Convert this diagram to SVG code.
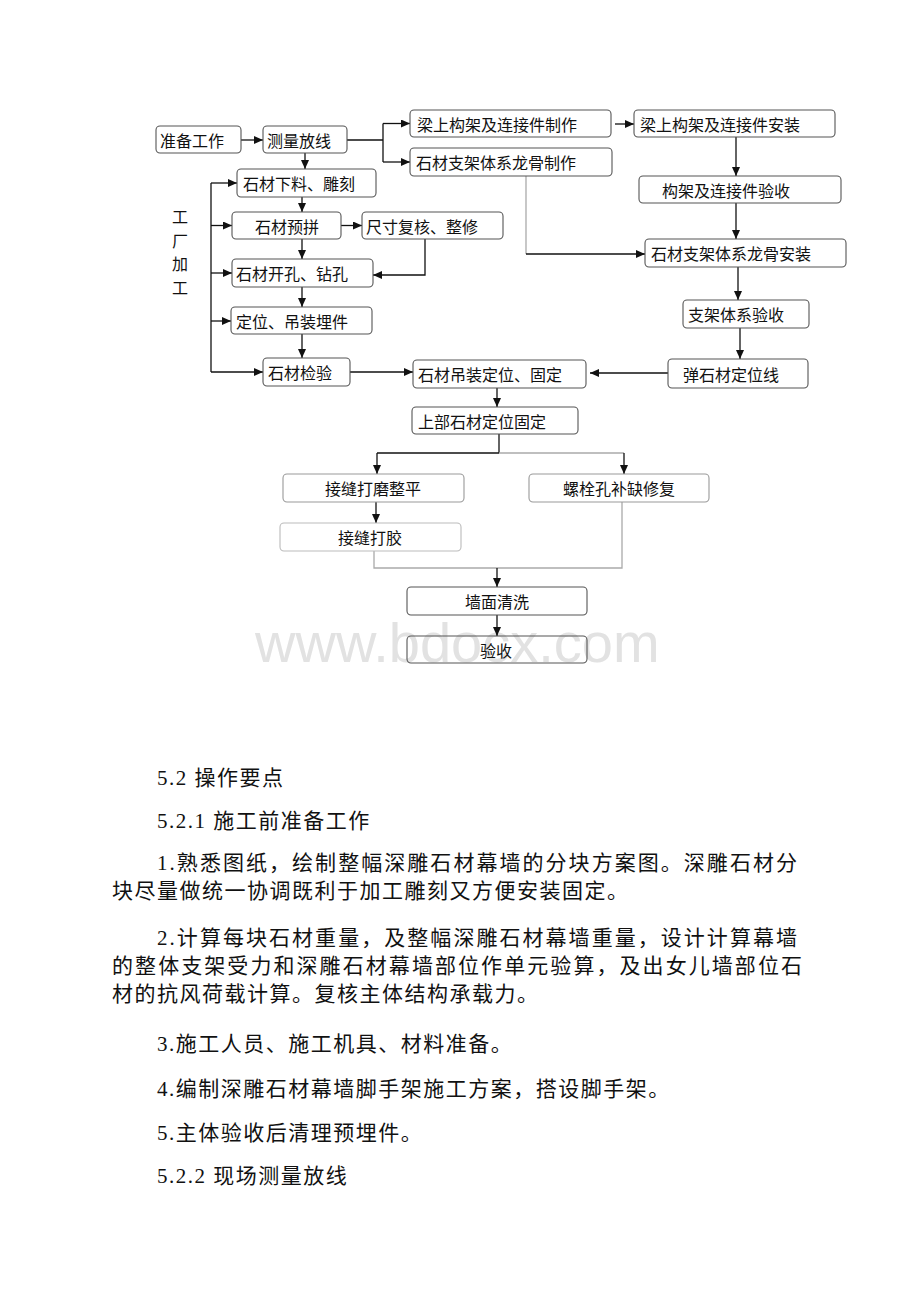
<svg xmlns="http://www.w3.org/2000/svg" width="920" height="1302" viewBox="0 0 920 1302">
<style>
.bx{fill:none;stroke:#555;stroke-width:1.1}
.lt{stroke:#999}
.lt2{stroke:#bbb}
.t{font-family:"Noto Sans CJK SC","Liberation Sans",sans-serif;font-size:16px;fill:#111;dominant-baseline:central}
.c{stroke:#111;stroke-width:1.3;fill:none}
.a{marker-end:url(#ah)}
.g{stroke:#aaa}
.p{font-family:"Liberation Serif","Noto Sans CJK SC",serif;font-size:21px;fill:#111}
.s{letter-spacing:1.5px}
.wm{font-family:"Liberation Sans",Arial,sans-serif;font-size:56px;fill:#e2e2e2}
</style>
<defs>
<marker id="ah" markerUnits="userSpaceOnUse" markerWidth="9" markerHeight="8" refX="9" refY="4" orient="auto">
<path d="M0,0 L9,4 L0,8 z" fill="#111"/>
</marker>
</defs>
<rect width="920" height="1302" fill="#fff"/>
<text class="wm" x="255" y="662">www.bdocx.com</text>

<g id="connectors">
<line class="c a" x1="241" y1="140" x2="263" y2="140"/>
<polyline class="c" points="347,140 383,140"/>
<line class="c" x1="383" y1="123.5" x2="383" y2="162"/>
<line class="c a" x1="383" y1="123.5" x2="410" y2="123.5"/>
<line class="c a" x1="383" y1="162" x2="410" y2="162"/>
<line class="c a" x1="615" y1="124" x2="634" y2="124"/>
<line class="c a" x1="736" y1="137" x2="736" y2="176"/>
<line class="c a" x1="736" y1="203" x2="736" y2="239"/>
<line class="c g" x1="526" y1="176" x2="526" y2="254"/>
<line class="c a" x1="526" y1="254" x2="645" y2="254"/>
<line class="c a" x1="738" y1="267" x2="738" y2="300"/>
<line class="c a" x1="740" y1="328" x2="740" y2="359"/>
<line class="c a" x1="668" y1="373" x2="590" y2="373"/>
<line class="c a" x1="305" y1="153" x2="305" y2="169"/>
<line class="c a" x1="302" y1="197" x2="302" y2="212"/>
<line class="c a" x1="341" y1="225.5" x2="362" y2="225.5"/>
<line class="c a" x1="302" y1="239" x2="302" y2="259"/>
<polyline class="c a" points="425,239 425,275 373,275"/>
<line class="c a" x1="302" y1="287" x2="302" y2="307"/>
<line class="c a" x1="302" y1="334" x2="302" y2="358"/>
<line class="c" x1="211" y1="183" x2="211" y2="372"/>
<line class="c a" x1="211" y1="183" x2="237" y2="183"/>
<line class="c a" x1="211" y1="225.5" x2="232" y2="225.5"/>
<line class="c a" x1="211" y1="273" x2="232" y2="273"/>
<line class="c a" x1="211" y1="321" x2="231" y2="321"/>
<line class="c a" x1="211" y1="372" x2="263" y2="372"/>
<line class="c a" x1="350" y1="372" x2="413" y2="372"/>
<line class="c a" x1="497" y1="388" x2="497" y2="407"/>
<line class="c" x1="499" y1="434" x2="499" y2="453"/>
<line class="c" x1="377" y1="453" x2="499" y2="453"/>
<line class="c g" x1="499" y1="453" x2="624" y2="453"/>
<line class="c a" x1="377" y1="453" x2="377" y2="474"/>
<line class="c a" x1="624" y1="453" x2="624" y2="474"/>
<line class="c a" x1="376" y1="502" x2="376" y2="523"/>
<polyline class="c g" points="374,551 374,568 622,568 622,502"/>
<line class="c a" x1="497" y1="568" x2="497" y2="587"/>
<line class="c a" x1="497" y1="615" x2="497" y2="636"/>
</g>

<g id="n-zhunbei"><rect class="bx" x="156" y="126" width="85" height="27" rx="4"/><text class="t" x="160" y="139.5">准备工作</text></g>
<g id="n-celiang"><rect class="bx" x="263" y="126" width="84" height="27" rx="4"/><text class="t" x="267" y="139.5">测量放线</text></g>
<g id="n-liangzhizuo"><rect class="bx" x="410" y="110" width="201" height="27" rx="4"/><text class="t" x="417" y="123.5">梁上构架及连接件制作</text></g>
<g id="n-longguzhizuo"><rect class="bx" x="410" y="148" width="202" height="28" rx="4"/><text class="t" x="416" y="162">石材支架体系龙骨制作</text></g>
<g id="n-liazanzhuang"><rect class="bx" x="634" y="110" width="201" height="27" rx="4"/><text class="t" x="640" y="123.5">梁上构架及连接件安装</text></g>
<g id="n-goujiayanshou"><rect class="bx" x="639" y="176" width="202" height="27" rx="4"/><text class="t" x="662" y="189.5">构架及连接件验收</text></g>
<g id="n-longguanzhuang"><rect class="bx" x="645" y="239" width="201" height="28" rx="4"/><text class="t" x="651" y="253">石材支架体系龙骨安装</text></g>
<g id="n-xialiao"><rect class="bx" x="237" y="169" width="139" height="28" rx="4"/><text class="t" x="243" y="183">石材下料、雕刻</text></g>
<g id="n-yupin"><rect class="bx" x="232" y="212" width="109" height="27" rx="4"/><text class="t" x="255" y="225.5">石材预拼</text></g>
<g id="n-chicun"><rect class="bx" x="362" y="212" width="141" height="27" rx="4"/><text class="t" x="366" y="225.5">尺寸复核、整修</text></g>
<g id="n-kaikong"><rect class="bx" x="232" y="259" width="141" height="28" rx="4"/><text class="t" x="236" y="273">石材开孔、钻孔</text></g>
<g id="n-dingwei"><rect class="bx" x="231" y="307" width="141" height="27" rx="4"/><text class="t" x="236" y="320.5">定位、吊装埋件</text></g>
<g id="n-jianyan"><rect class="bx" x="263" y="358" width="87" height="28" rx="4"/><text class="t" x="268" y="372">石材检验</text></g>
<g id="n-diaozhuang"><rect class="bx" x="413" y="360" width="173" height="28" rx="4"/><text class="t" x="418" y="374">石材吊装定位、固定</text></g>
<g id="n-shangbu"><rect class="bx" x="412" y="407" width="166" height="27" rx="4"/><text class="t" x="418" y="420.5">上部石材定位固定</text></g>
<g id="n-zhijia"><rect class="bx" x="683" y="300" width="126" height="28" rx="4"/><text class="t" x="688" y="314">支架体系验收</text></g>
<g id="n-tanxian"><rect class="bx" x="668" y="359" width="140" height="29" rx="4"/><text class="t" x="683" y="373.5">弹石材定位线</text></g>
<g id="n-damo"><rect class="bx lt" x="283" y="474" width="181" height="28" rx="4"/><text class="t" x="325" y="488">接缝打磨整平</text></g>
<g id="n-luoshuan"><rect class="bx lt" x="529" y="474" width="180" height="28" rx="4"/><text class="t" x="563" y="488">螺栓孔补缺修复</text></g>
<g id="n-dajiao"><rect class="bx lt2" x="280" y="523" width="181" height="28" rx="4"/><text class="t" x="338" y="537">接缝打胶</text></g>
<g id="n-qingxi"><rect class="bx" x="407" y="587" width="180" height="28" rx="4"/><text class="t" x="465" y="601">墙面清洗</text></g>
<g id="n-yanshou"><rect class="bx" x="407" y="636" width="180" height="27" rx="4"/><text class="t" x="480" y="649.5">验收</text></g>

<g id="label-gongchang">
<text class="t" x="180" y="216" text-anchor="middle">工</text>
<text class="t" x="180" y="239.5" text-anchor="middle">厂</text>
<text class="t" x="180" y="263" text-anchor="middle">加</text>
<text class="t" x="180" y="286.5" text-anchor="middle">工</text>
</g>

<g id="body-text">
<text class="p s" x="157" y="785">5.2 操作要点</text>
<text class="p s" x="157" y="828">5.2.1 施工前准备工作</text>
<text class="p" x="157" y="870" textLength="640" lengthAdjust="spacing">1.熟悉图纸，绘制整幅深雕石材幕墙的分块方案图。深雕石材分</text>
<text class="p s" x="112" y="898">块尽量做统一协调既利于加工雕刻又方便安装固定。</text>
<text class="p" x="157" y="945" textLength="640" lengthAdjust="spacing">2.计算每块石材重量，及整幅深雕石材幕墙重量，设计计算幕墙</text>
<text class="p" x="112" y="973" textLength="690" lengthAdjust="spacing">的整体支架受力和深雕石材幕墙部位作单元验算，及出女儿墙部位石</text>
<text class="p s" x="112" y="1001">材的抗风荷载计算。复核主体结构承载力。</text>
<text class="p s" x="157" y="1051">3.施工人员、施工机具、材料准备。</text>
<text class="p s" x="157" y="1096">4.编制深雕石材幕墙脚手架施工方案，搭设脚手架。</text>
<text class="p s" x="157" y="1140">5.主体验收后清理预埋件。</text>
<text class="p s" x="157" y="1183">5.2.2 现场测量放线</text>
</g>
</svg>
